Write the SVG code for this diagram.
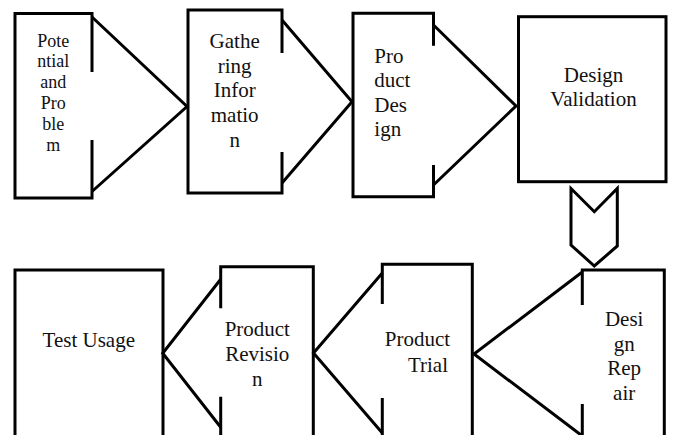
<svg xmlns="http://www.w3.org/2000/svg" width="673" height="435" viewBox="0 0 673 435">
  <style>
    .shape { fill: none; stroke: #000; stroke-width: 3; stroke-linejoin: miter; stroke-linecap: butt; }
    .notch { fill: none; stroke: #000; stroke-width: 4; }
    text { font-family: "Liberation Serif", "Times New Roman", serif; font-size: 21px; fill: #111; text-anchor: middle; }
    .small { font-size: 18px; }
  </style>
  <rect x="0" y="0" width="673" height="435" fill="#fff"/>

  <g id="node-potential">
    <path class="shape" d="M92,72 V13.5 H15 V198 H92 V140"/>
    <path class="shape" d="M92,17 L187,106.5 L92,191.5"/>
    <text class="small" x="53.3" y="46.5">Pote</text>
    <text class="small" x="53.3" y="67.3">ntial</text>
    <text class="small" x="53.3" y="88.1">and</text>
    <text class="small" x="53.3" y="108.9">Pro</text>
    <text class="small" x="53.3" y="129.7">ble</text>
    <text class="small" x="53.3" y="150.5">m</text>
  </g>

  <g id="node-gathering">
    <path class="shape" d="M282,53 V10 H188 V193 H282 V152"/>
    <path class="shape" d="M282,20 L352,101.7 L282,183"/>
    <text x="234.7" y="47.5">Gathe</text>
    <text x="234.7" y="72.6">ring</text>
    <text x="234.7" y="97.3">Infor</text>
    <text x="234.7" y="122.2">matio</text>
    <text x="234.7" y="147.1">n</text>
  </g>

  <g id="node-product-design">
    <path class="shape" d="M433.5,45.7 V13.3 H353 V196.7 H433.5 V165"/>
    <path class="shape" d="M433.5,25 L516,106 L433.5,185"/>
    <text x="374.3" y="63.3" style="text-anchor:start">Pro</text>
    <text x="374.3" y="87.4" style="text-anchor:start">duct</text>
    <text x="374.3" y="111.5" style="text-anchor:start">Des</text>
    <text x="374.3" y="135.6" style="text-anchor:start">ign</text>
  </g>

  <g id="node-design-validation">
    <rect class="shape" x="518.5" y="16.7" width="147.5" height="165"/>
    <text x="593.5" y="81.7">Design</text>
    <text x="593.5" y="106">Validation</text>
  </g>

  <g id="node-design-repair">
    <path class="shape" d="M582.3,305 V270 H664.3 V450 H582.3 V404"/>
    <path class="shape" d="M582.3,272 L474,354 L582.3,436"/>
    <text x="624.2" y="326">Desi</text>
    <text x="624.2" y="350.7">gn</text>
    <text x="624.2" y="375.4">Rep</text>
    <text x="624.2" y="400.1">air</text>
  </g>

  <g id="node-product-trial">
    <path class="shape" d="M382.3,304 V264.3 H472.3 V450 H382.3 V398"/>
    <path class="shape" d="M382.3,273 L313.5,353 L382.3,433"/>
    <text x="417.5" y="345.7">Product</text>
    <text x="428" y="371.7">Trial</text>
  </g>

  <g id="node-product-revision">
    <path class="shape" d="M220.7,308.3 V266.7 H313.3 V450 H220.7 V396.7"/>
    <path class="shape" d="M220.7,279.3 L162.7,353.3 L220.7,427.3"/>
    <text x="257.3" y="336">Product</text>
    <text x="257.3" y="361">Revisio</text>
    <text x="257.3" y="386">n</text>
  </g>

  <g id="node-test-usage">
    <path class="shape" d="M15,450 V270 H163 V450"/>
    <text x="88.8" y="347.3">Test Usage</text>
  </g>

  <g id="connectors">
    <polygon class="shape" points="571,188.5 594.3,211.7 617.3,188.5 617.3,246 594.3,266 571,245"/>
  </g>
</svg>
